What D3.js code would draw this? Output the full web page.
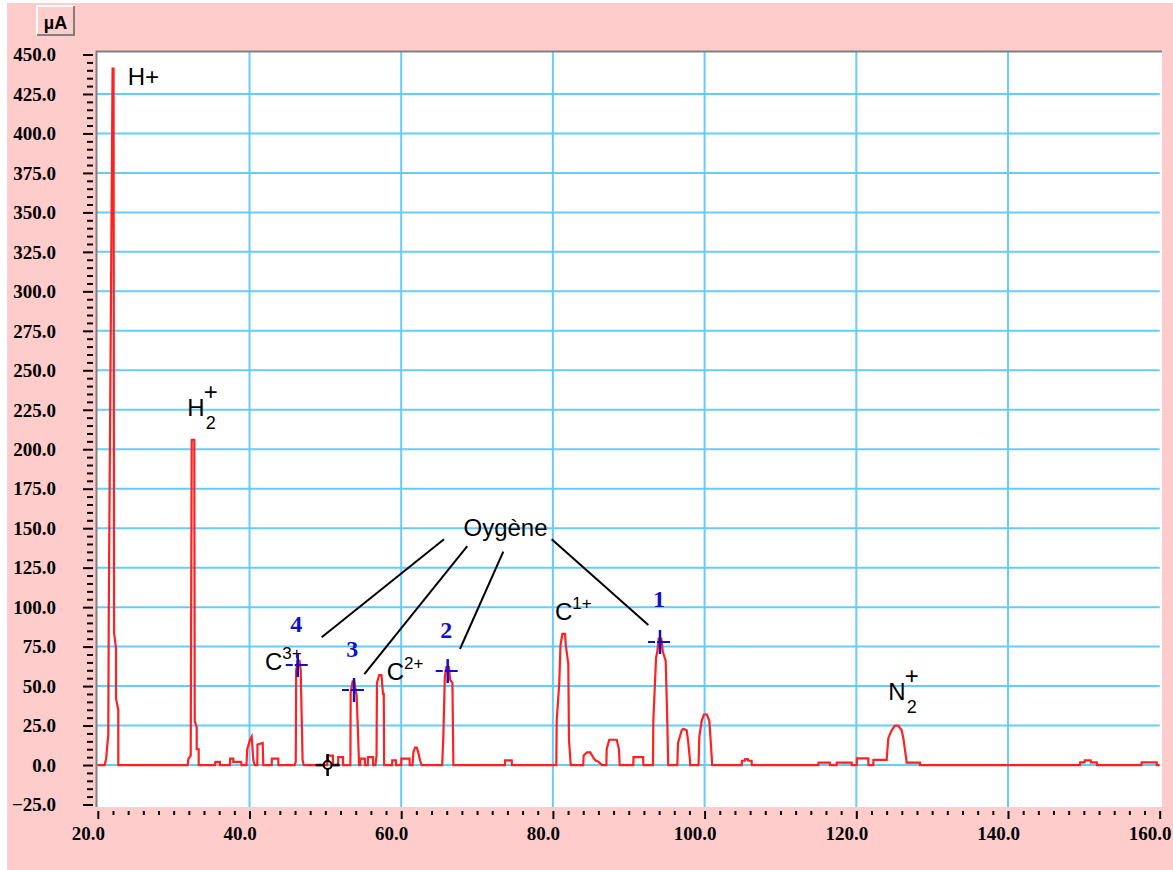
<!DOCTYPE html>
<html>
<head>
<meta charset="utf-8">
<script src="https://cdn.jsdelivr.net/npm/d3@7"></script>
<style>
  html, body { margin: 0; padding: 0; background: #ffffff; }
  svg { display: block; }
</style>
</head>
<body>
<svg id="chart" width="1173" height="870"></svg>
<script>
// Mass spectrum trace: [mass (uma), ion current (µA)]
const trace = [
  [20.0, 0], [20.9, 0], [21.0, 2], [21.1, 4], [21.3, 15], [21.38, 19], [21.45, 100],
  [21.95, 441], [22.08, 441], [22.14, 84], [22.4, 74], [22.4, 42], [22.7, 35], [22.7, 0],
  [31.85, 0], [31.95, 4], [32.25, 6], [32.38, 206], [32.72, 206], [32.78, 28],
  [33.04, 24], [33.04, 10], [33.3, 10], [33.3, 0],
  [35.45, 0], [35.5, 2], [36.1, 2], [36.1, 0],
  [37.43, 0], [37.45, 4], [37.86, 4], [37.86, 2], [38.9, 2], [38.95, 0],
  [39.6, 0], [39.7, 10], [40.07, 16], [40.29, 18], [40.5, 3], [40.7, 0],
  [41.03, 0], [41.05, 13], [41.74, 14], [41.82, 0],
  [42.93, 0], [42.95, 4], [43.8, 4], [43.8, 0],
  [45.95, 0], [46.1, 2], [46.15, 60], [46.35, 66], [46.6, 66], [46.75, 60], [47.0, 3], [47.15, 0],
  [50.25, 0], [50.27, 6], [51.0, 6], [51.0, 0],
  [51.67, 0], [51.7, 5], [52.33, 5], [52.35, 0],
  [53.3, 0], [53.34, 46], [53.6, 53], [53.8, 53], [54.05, 46], [54.13, 44], [54.45, 0],
  [54.6, 0], [54.62, 4], [55.2, 4], [55.22, 0],
  [55.6, 0], [55.62, 5], [56.28, 5], [56.3, 0],
  [56.6, 0], [56.75, 6], [56.8, 52], [57.1, 57], [57.4, 57], [57.6, 45], [57.7, 45], [57.75, 0],
  [58.8, 0], [58.82, 3], [59.3, 3], [59.32, 0],
  [60.0, 0], [60.02, 4], [61.1, 4], [61.12, 0],
  [61.5, 0], [61.6, 8], [61.82, 11], [62.05, 11], [62.25, 8], [62.48, 3], [62.7, 0],
  [65.4, 0], [65.55, 17], [65.75, 56], [65.95, 62], [66.3, 62], [66.45, 54], [66.75, 52], [66.88, 0],
  [73.68, 0], [73.7, 3], [74.57, 3], [74.6, 0],
  [80.45, 0], [80.5, 28], [80.84, 52], [81.0, 76], [81.25, 83], [81.6, 83], [81.7, 76],
  [82.03, 64], [82.12, 16], [82.35, 0],
  [84.0, 0], [84.05, 6], [84.5, 8], [84.93, 8], [85.29, 5], [85.6, 3], [86.03, 2], [86.48, 0],
  [87.05, 0], [87.09, 10], [87.43, 16], [88.41, 16], [88.71, 10], [88.8, 0],
  [90.6, 0], [90.62, 5], [91.9, 5], [91.92, 0],
  [93.2, 0], [93.24, 28], [93.6, 68], [93.77, 72], [93.95, 80], [94.3, 80], [94.48, 72],
  [94.87, 66], [95.08, 28], [95.2, 0],
  [96.4, 0], [96.5, 14], [96.98, 22], [97.19, 23], [97.64, 22], [97.85, 14], [98.07, 3], [98.1, 0],
  [99.2, 0], [99.3, 18], [99.62, 28], [99.9, 32], [100.3, 32], [100.62, 28], [100.85, 12], [101.0, 0],
  [104.9, 0], [104.92, 2.7], [105.3, 2.7], [105.35, 3.8], [105.7, 3.8], [105.75, 2.7], [106.2, 2.7], [106.22, 0],
  [115.0, 0], [115.02, 1.5], [116.5, 1.5], [116.53, 0],
  [117.4, 0], [117.42, 1.5], [119.38, 1.5], [119.4, 0],
  [120.06, 0], [120.08, 4.2], [121.58, 4.2], [121.6, 0],
  [122.24, 0], [122.26, 3.2], [124.0, 3.2],
  [124.22, 17], [124.66, 22], [125.1, 25], [125.53, 25], [125.98, 22], [126.2, 17],
  [126.55, 5], [126.64, 1.5], [128.38, 1.5], [128.4, 0],
  [149.5, 0], [149.52, 1.7], [150.1, 1.7], [150.12, 3], [150.9, 3], [150.92, 1.7], [151.7, 1.7], [151.72, 0],
  [157.6, 0], [157.62, 1.7], [159.6, 1.7], [159.62, 0],
  [160.0, 0]
];

// Axis ticks
const yTicks = [450, 425, 400, 375, 350, 325, 300, 275, 250, 225, 200, 175, 150, 125, 100, 75, 50, 25, 0, -25];
const yMinorStep = 5;
const xTicks = [20, 40, 60, 80, 100, 120, 140, 160];
const xMinorStep = 2;
const unitLabel = "µA";

// Ion labels: base symbol with optional subscript / superscript
const ionLabels = [
  { base: "H+",  sub: null, sup: null, mass: 23.94, current: 430.7 },
  { base: "H",   sub: "2",  sup: "+",  mass: 31.80, current: 221.0, stacked: true },
  { base: "C",   sub: null, sup: "3+", mass: 42.04, current: 60.2 },
  { base: "C",   sub: null, sup: "2+", mass: 58.09, current: 53.8 },
  { base: "C",   sub: null, sup: "1+", mass: 80.28, current: 91.8 },
  { base: "N",   sub: "2",  sup: "+",  mass: 124.22, current: 41.2, stacked: true }
];

// Oxygen peaks: numbered cursors
const oxygenMarks = [
  { num: "4", mass: 46.36, current: 63.3, labelMass: 46.17, labelCurrent: 84.4 },
  { num: "3", mass: 53.78, current: 47.5, labelMass: 53.54, labelCurrent: 68.6 },
  { num: "2", mass: 66.13, current: 59.5, labelMass: 65.95, labelCurrent: 80.4 },
  { num: "1", mass: 94.12, current: 77.9, labelMass: 93.99, labelCurrent: 100.3 }
];

const oxygenTitle = { text: "Oygène", mass: 68.21, current: 145.0 };
const oxygenLeaders = [
  [[65.64, 142.96], [49.52, 80.88]],
  [[68.71, 138.7],  [55.14, 57.64]],
  [[73.46, 135.1],  [67.75, 73.47]],
  [[79.84, 142.96], [92.58, 88.68]]
];

// Reference cursor on the baseline
const refCursor = { mass: 50.3, current: 0 };

// ---------------------------------------------------------------
const svg = d3.select("#chart");
const W = 1173, H = 870;
const plot = { left: 97, top: 52, right: 1162, bottom: 807 };

const x = d3.scaleLinear().domain([20, 160]).range([97.8, 1159.7]);
const y = d3.scaleLinear().domain([-25, 450]).range([804.5, 54.5]);

// Window background
svg.append("rect").attr("x", 0).attr("y", 0).attr("width", W).attr("height", H).attr("fill", "#ffffff");
svg.append("rect").attr("x", 7).attr("y", 3).attr("width", W - 7).attr("height", H - 3).attr("fill", "#ffcccc");

// Unit button
const btn = svg.append("g");
btn.append("rect").attr("x", 37).attr("y", 6).attr("width", 37).attr("height", 29).attr("fill", "#ffcccc");
btn.append("path").attr("d", "M37,35 V6 H74").attr("fill", "none").attr("stroke", "#ffffff").attr("stroke-width", 2);
btn.append("path").attr("d", "M74,6 V35 H37").attr("fill", "none").attr("stroke", "#808080").attr("stroke-width", 2);
btn.append("text").attr("x", 55.5).attr("y", 28.5).attr("text-anchor", "middle")
  .attr("font-family", "Liberation Sans, Arial, sans-serif").attr("font-weight", "bold")
  .attr("font-size", 18).attr("fill", "#000").text(unitLabel);

// Plot area
svg.append("rect").attr("x", plot.left).attr("y", plot.top)
  .attr("width", plot.right - plot.left).attr("height", plot.bottom - plot.top).attr("fill", "#ffffff");

// Grid
const grid = svg.append("g").attr("stroke", "#66ccff").attr("stroke-width", 2);
grid.selectAll("line.h").data(yTicks.filter(v => v >= 0 && v < 450)).join("line")
  .attr("class", "h").attr("x1", plot.left).attr("x2", x(160)).attr("y1", d => y(d)).attr("y2", d => y(d));
grid.selectAll("line.v").data(xTicks.filter(v => v > 20 && v < 160)).join("line")
  .attr("class", "v").attr("x1", d => x(d)).attr("x2", d => x(d)).attr("y1", plot.top).attr("y2", plot.bottom);

// Inset border (top and left)
svg.append("path").attr("d", `M${plot.left - 0.5},${plot.bottom} V${plot.top - 0.5} H${plot.right}`)
  .attr("fill", "none").attr("stroke", "#808080").attr("stroke-width", 2);

// Y axis
const yMinor = d3.range(-25, 450.1, yMinorStep).filter(v => !yTicks.includes(v));
const yAxisG = svg.append("g").attr("transform", "translate(93,0)");
yAxisG.call(d3.axisLeft(y).tickValues(yTicks).tickSize(10).tickPadding(26).tickFormat(d3.format(".1f")));
const yMinorG = svg.append("g").attr("transform", "translate(93,0)");
yMinorG.call(d3.axisLeft(y).tickValues(yMinor).tickSize(6).tickFormat(""));

// X axis
const xMinor = d3.range(20, 160.1, xMinorStep).filter(v => !xTicks.includes(v));
const xAxisG = svg.append("g").attr("transform", "translate(0,811)");
xAxisG.call(d3.axisBottom(x).tickValues(xTicks).tickSize(8).tickPadding(8).tickFormat(d3.format(".1f")));
const xMinorG = svg.append("g").attr("transform", "translate(0,811)");
xMinorG.call(d3.axisBottom(x).tickValues(xMinor).tickSize(4).tickFormat(""));

[yAxisG, yMinorG, xAxisG, xMinorG].forEach(g => {
  g.select(".domain").remove();
  g.selectAll(".tick line").attr("stroke", "#000").attr("stroke-width", 2);
  g.selectAll("text").attr("font-family", "Liberation Serif, Times New Roman, serif")
    .attr("font-weight", "bold").attr("font-size", 19).attr("fill", "#000");
});
yAxisG.selectAll("text").attr("dy", "0.33em").attr("dx", -1);
xAxisG.selectAll("text").attr("dy", "0.71em").attr("x", -10);

// Spectrum line
const line = d3.line().x(d => x(d[0])).y(d => y(d[1]));
svg.append("path").datum(trace).attr("d", line)
  .attr("fill", "none").attr("stroke", "#ff2020").attr("stroke-width", 2.2).attr("stroke-linejoin", "miter");

// Ion labels
const sans = "Liberation Sans, Arial, sans-serif";
ionLabels.forEach(l => {
  const g = svg.append("g").attr("font-family", sans).attr("fill", "#000");
  const bx = x(l.mass), by = y(l.current);
  const t = g.append("text").attr("x", bx).attr("y", by).attr("font-size", 24).text(l.base);
  const w = t.node().getComputedTextLength();
  if (l.stacked) {
    g.append("text").attr("x", bx + w + 1).attr("y", by + 13).attr("font-size", 18).text(l.sub);
    g.append("text").attr("x", bx + w - 1).attr("y", by - 16).attr("font-size", 24).text(l.sup);
  } else if (l.sup) {
    g.append("text").attr("x", bx + w).attr("y", by - 11).attr("font-size", 17).text(l.sup);
  }
});

// Oxygen cursors
const blue = "#1010c8";
oxygenMarks.forEach(m => {
  const cx = x(m.mass), cy = y(m.current);
  const g = svg.append("g").attr("stroke", blue).attr("stroke-width", 2);
  g.append("line").attr("x1", cx - 12).attr("x2", cx + 12).attr("y1", cy).attr("y2", cy)
    .attr("stroke-dasharray", "7,2,6,0");
  g.append("line").attr("x1", cx).attr("x2", cx).attr("y1", cy - 12).attr("y2", cy + 12).attr("stroke-width", 2.5);
  svg.append("text").attr("x", x(m.labelMass)).attr("y", y(m.labelCurrent)).attr("text-anchor", "middle")
    .attr("font-family", "Liberation Serif, Times New Roman, serif").attr("font-weight", "bold")
    .attr("font-size", 24).attr("fill", blue).text(m.num);
});

// Oxygen title and leader lines
svg.append("text").attr("x", x(oxygenTitle.mass)).attr("y", y(oxygenTitle.current))
  .attr("font-family", sans).attr("font-size", 24).attr("fill", "#000").text(oxygenTitle.text);
svg.append("g").attr("stroke", "#000").attr("stroke-width", 2)
  .selectAll("line").data(oxygenLeaders).join("line")
  .attr("x1", d => x(d[0][0])).attr("y1", d => y(d[0][1]))
  .attr("x2", d => x(d[1][0])).attr("y2", d => y(d[1][1]));

// Reference cursor
{
  const cx = x(refCursor.mass), cy = y(refCursor.current);
  const g = svg.append("g").attr("stroke", "#000").attr("stroke-width", 2.5).attr("fill", "none");
  g.append("line").attr("x1", cx - 12).attr("x2", cx - 4).attr("y1", cy).attr("y2", cy);
  g.append("line").attr("x1", cx + 4).attr("x2", cx + 12).attr("y1", cy).attr("y2", cy);
  g.append("line").attr("x1", cx).attr("x2", cx).attr("y1", cy - 11).attr("y2", cy - 4);
  g.append("line").attr("x1", cx).attr("x2", cx).attr("y1", cy + 4).attr("y2", cy + 11);
  g.append("circle").attr("cx", cx).attr("cy", cy).attr("r", 4).attr("stroke-width", 2);
}
</script>
</body>
</html>
